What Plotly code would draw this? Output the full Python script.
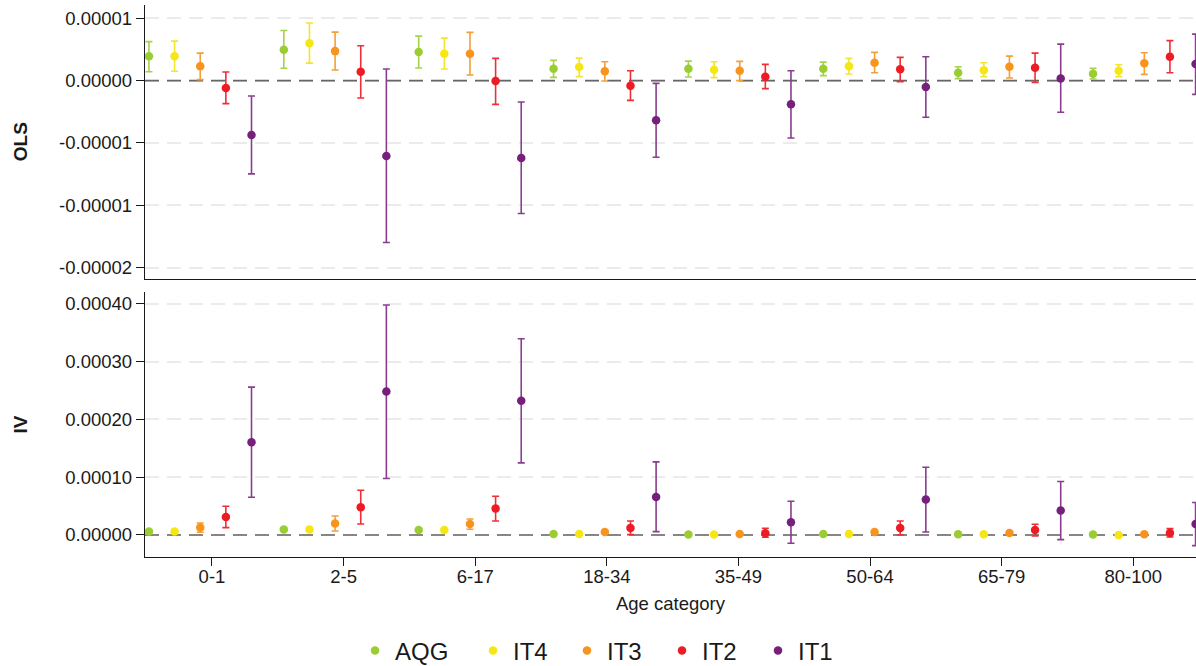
import plotly.graph_objects as go

# Age categories on the shared x axis
age_groups = ["0-1", "2-5", "6-17", "18-34", "35-49", "50-64", "65-79", "80-100"]
series_names = ["AQG", "IT4", "IT3", "IT2", "IT1"]

# All estimates and confidence bounds are in units of 1e-6
UNIT = 1e-6

# ---- OLS: point estimates, lower and upper CI bounds ----
ols_aqg = [1.95, 2.48, 2.29, 0.96, 0.96, 0.96, 0.64, 0.56]
ols_aqg_lo = [0.72, 0.99, 1.01, 0.26, 0.29, 0.40, 0.16, 0.13]
ols_aqg_hi = [3.13, 4.03, 3.57, 1.63, 1.57, 1.49, 1.12, 0.99]

ols_it4 = [1.95, 3.01, 2.16, 1.09, 0.88, 1.15, 0.83, 0.80]
ols_it4_lo = [0.75, 1.41, 0.93, 0.32, 0.24, 0.53, 0.32, 0.32]
ols_it4_hi = [3.17, 4.62, 3.41, 1.81, 1.52, 1.79, 1.44, 1.28]

ols_it3 = [1.15, 2.37, 2.16, 0.75, 0.80, 1.44, 1.12, 1.39]
ols_it3_lo = [0.08, 0.85, 0.45, -0.03, 0.00, 0.64, 0.21, 0.50]
ols_it3_hi = [2.21, 3.89, 3.87, 1.52, 1.55, 2.27, 1.97, 2.24]

ols_it2 = [-0.59, 0.72, -0.03, -0.40, 0.32, 0.91, 1.04, 1.92]
ols_it2_lo = [-1.84, -1.39, -1.90, -1.58, -0.64, -0.08, -0.14, 0.64]
ols_it2_hi = [0.69, 2.80, 1.79, 0.80, 1.31, 1.87, 2.21, 3.21]

ols_it1 = [-4.36, -6.04, -6.20, -3.18, -1.90, -0.51, 0.18, 1.33]
ols_it1_lo = [-7.48, -12.98, -10.66, -6.15, -4.60, -2.94, -2.54, -1.10]
ols_it1_hi = [-1.23, 0.93, -1.71, -0.22, 0.80, 1.92, 2.93, 3.73]

# ---- IV: point estimates, lower and upper CI bounds ----
iv_aqg = [5.9, 9.4, 8.7, 1.7, 0.7, 1.7, 1.2, 0.7]
iv_aqg_lo = [3.9, 7.4, 6.9, 0.5, -0.5, 0.5, 0.1, -0.4]
iv_aqg_hi = [7.9, 11.4, 10.5, 2.9, 1.9, 2.9, 2.3, 1.8]

iv_it4 = [5.9, 9.4, 8.7, 1.7, 0.7, 1.7, 1.2, 0.0]
iv_it4_lo = [4.3, 7.8, 7.1, 0.8, -0.2, 0.8, 0.3, -0.9]
iv_it4_hi = [7.5, 11.0, 10.3, 2.6, 1.6, 2.6, 2.1, 0.9]

iv_it3 = [12.8, 19.8, 19.1, 5.2, 1.7, 5.2, 3.5, 1.2]
iv_it3_lo = [4.7, 6.9, 9.9, 2.5, -0.5, 2.6, 1.0, -1.0]
iv_it3_hi = [20.8, 33.0, 27.7, 7.9, 3.9, 7.8, 6.0, 3.4]

iv_it2 = [31.2, 48.0, 45.8, 12.1, 2.9, 12.1, 8.7, 3.5]
iv_it2_lo = [12.8, 19.1, 24.3, 0.7, -4.0, 0.0, -1.7, -3.5]
iv_it2_hi = [49.8, 77.5, 67.1, 24.3, 11.6, 24.3, 18.6, 11.1]

iv_it1 = [160.7, 248.6, 232.4, 65.9, 22.0, 61.4, 42.3, 19.1]
iv_it1_lo = [65.4, 97.8, 124.8, 5.9, -14.4, 5.2, -8.0, -18.4]
iv_it1_hi = [256.1, 398.3, 339.9, 126.6, 58.4, 117.4, 92.6, 56.2]

# Tick labels
ols_tickvals = [5e-6, 0.0, -5e-6, -1e-5, -1.5e-5]
ols_ticktext = ["0.00001", "0.00000", "-0.00001", "-0.00001", "-0.00002"]
iv_tickvals = [0.0, 1e-4, 2e-4, 3e-4, 4e-4]
iv_ticktext = ["0.00000", "0.00010", "0.00020", "0.00030", "0.00040"]

# Styling
marker_colors = ["#9acd32", "#f5e614", "#f7941d", "#ed1c24", "#771f7c"]
bar_colors = ["#a7d24c", "#f3e52e", "#f59f36", "#ee2f35", "#8a3c8e"]
FONT = "Liberation Sans, Arial, Helvetica, sans-serif"
W, H = 1196, 666

ols_data = [
    (ols_aqg, ols_aqg_lo, ols_aqg_hi),
    (ols_it4, ols_it4_lo, ols_it4_hi),
    (ols_it3, ols_it3_lo, ols_it3_hi),
    (ols_it2, ols_it2_lo, ols_it2_hi),
    (ols_it1, ols_it1_lo, ols_it1_hi),
]
iv_data = [
    (iv_aqg, iv_aqg_lo, iv_aqg_hi),
    (iv_it4, iv_it4_lo, iv_it4_hi),
    (iv_it3, iv_it3_lo, iv_it3_hi),
    (iv_it2, iv_it2_lo, iv_it2_hi),
    (iv_it1, iv_it1_lo, iv_it1_hi),
]

# Dodged x positions (in category-tick units)
GROUP_START = -0.479
GROUP_STEP = 1.0248
DODGE = 0.1948
x_range = [-0.509, 7.477]


def x_positions(j):
    return [GROUP_START + i * GROUP_STEP + j * DODGE for i in range(len(age_groups))]


legend_ids = ["legend", "legend2", "legend3", "legend4", "legend5"]
legend_marker_px = [376, 494, 588, 683, 779]   # horizontal placement of each key

fig = go.Figure()

for panel, (data, xa, ya) in enumerate([(ols_data, "x", "y"), (iv_data, "x2", "y2")]):
    # dashed reference line at zero, above the grid and below the points
    fig.add_trace(go.Scatter(
        x=x_range, y=[0, 0], xaxis=xa, yaxis=ya, mode="lines",
        line=dict(color="#666666", width=1.6, dash="14px,8px"),
        showlegend=False, hoverinfo="skip",
    ))
    for j, (name, (est, lo, hi)) in enumerate(zip(series_names, data)):
        y = [v * UNIT for v in est]
        plus = [(h - e) * UNIT for e, h in zip(est, hi)]
        minus = [(e - l) * UNIT for e, l in zip(est, lo)]
        fig.add_trace(go.Scatter(
            x=x_positions(j), y=y, xaxis=xa, yaxis=ya,
            mode="markers", name=name,
            legend=legend_ids[j], legendgroup=name, showlegend=(panel == 0),
            marker=dict(color=marker_colors[j], size=8.5),
            error_y=dict(type="data", symmetric=False, array=plus, arrayminus=minus,
                         color=bar_colors[j], thickness=1.6, width=3.5),
        ))

PLOT_TOP, PLOT_BOTTOM = 5, 556.7
plot_h = PLOT_BOTTOM - PLOT_TOP


def frac(py):
    return (PLOT_BOTTOM - py) / plot_h


grid = dict(showgrid=True, gridcolor="#ebebeb", gridwidth=1.5, griddash="14px,8px")
yaxis_common = dict(
    showline=True, linecolor="#1a1a1a", linewidth=1.3,
    ticks="outside", ticklen=8, tickcolor="#1a1a1a", tickwidth=1.2,
    tickfont=dict(family=FONT, size=18.5, color="#1a1a1a"),
    zeroline=False, **grid,
)

LEGEND_OFFSET = 21
legends = {}
for lid, px in zip(legend_ids, legend_marker_px):
    legends[lid] = dict(
        orientation="h", xref="container", yref="container",
        x=(px - LEGEND_OFFSET) / W, xanchor="left",
        y=(H - 651) / H, yanchor="middle",
        bgcolor="rgba(0,0,0,0)",
        font=dict(family=FONT, size=24, color="#1a1a1a"),
    )

fig.update_layout(
    width=W, height=H,
    margin=dict(l=145, r=0, t=PLOT_TOP, b=H - PLOT_BOTTOM, autoexpand=False),
    paper_bgcolor="white", plot_bgcolor="white",
    font=dict(family=FONT, color="#1a1a1a"),
    xaxis=dict(domain=[0, 1], anchor="y", range=x_range, matches="x2",
               showline=True, linecolor="#1a1a1a", linewidth=1.3,
               showticklabels=False, ticks="", showgrid=False, zeroline=False),
    xaxis2=dict(domain=[0, 1], anchor="y2", range=x_range,
                tickvals=list(range(len(age_groups))), ticktext=age_groups,
                showline=True, linecolor="#1a1a1a", linewidth=1.3,
                ticks="outside", ticklen=8, tickcolor="#1a1a1a", tickwidth=1.2,
                ticklabelstandoff=-5,
                tickfont=dict(family=FONT, size=18.5, color="#1a1a1a"),
                showgrid=False, zeroline=False,
                title=dict(text="Age category", standoff=10,
                           font=dict(family=FONT, size=18.5, color="#1a1a1a"))),
    yaxis=dict(domain=[frac(279.3), 1], anchor="x", range=[-1.595e-5, 6.07e-6],
               tickvals=ols_tickvals, ticktext=ols_ticktext, **yaxis_common),
    yaxis2=dict(domain=[0, frac(291.7)], anchor="x2", range=[-3.81e-5, 4.21e-4],
                tickvals=iv_tickvals, ticktext=iv_ticktext, **yaxis_common),
    showlegend=True,
    **legends,
)

# Panel labels
for text, ymid in [("OLS", (PLOT_TOP + 279.3) / 2), ("IV", (291.7 + PLOT_BOTTOM) / 2)]:
    fig.add_annotation(text=f"<b>{text}</b>", xref="paper", yref="paper",
                       x=(20 - 145) / 1051, y=frac(ymid), xanchor="center", yanchor="middle",
                       textangle=-90, showarrow=False,
                       font=dict(family=FONT, size=19, color="#1a1a1a"))

fig.write_html("out.html")
